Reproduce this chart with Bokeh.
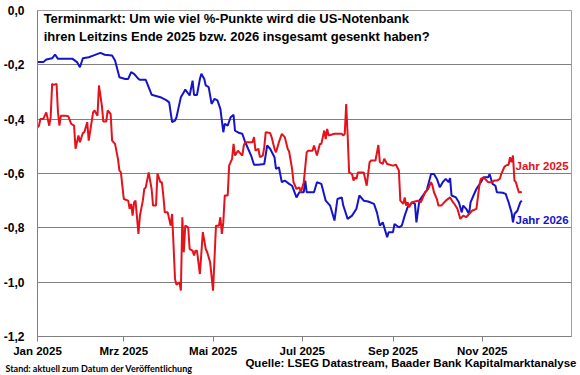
from datetime import datetime, timedelta
from bokeh.plotting import figure
from bokeh.models import Range1d, FixedTicker, Label, CustomJSTickFormatter, ColumnDataSource, Title
from bokeh.embed import file_html
from bokeh.resources import INLINE

# ---------------- data ----------------
title_line1 = "Terminmarkt: Um wie viel %-Punkte  wird die US-Notenbank"
title_line2 = "ihren Leitzins Ende 2025 bzw. 2026 insgesamt gesenkt haben?"
label_2025 = "Jahr 2025"
label_2026 = "Jahr 2026"
source_text = "Quelle: LSEG Datastream, Baader Bank Kapitalmarktanalyse"
stand_text = "Stand: aktuell zum Datum der Veröffentlichung"

y_ticks = [0.0, -0.2, -0.4, -0.6, -0.8, -1.0, -1.2]
x_tick_dates = [datetime(2025, 1, 1), datetime(2025, 3, 1), datetime(2025, 5, 1),
                datetime(2025, 7, 1), datetime(2025, 9, 1), datetime(2025, 11, 1)]
x_tick_labels = ["Jan 2025", "Mrz 2025", "Mai 2025", "Jul 2025", "Sep 2025", "Nov 2025"]

# days since 1 Jan 2025
days_2025 = [0, 1, 2, 4, 6, 7, 8, 9, 10, 11, 13, 14, 15, 16, 19, 21, 23, 25, 26, 28,
             29, 31, 32, 34, 35, 38, 39, 41, 42, 44, 45, 47, 48, 50, 51, 53, 55, 56, 57, 59,
             62, 63, 64, 65, 66, 67, 69, 70, 72, 73, 74, 76, 78, 79, 81, 82, 84, 85, 86, 87,
             89, 91, 92, 93, 94, 95, 97, 98, 99, 100, 101, 103, 104, 106, 107, 108, 109, 111, 113, 115,
             116, 118, 120, 122, 124, 125, 126, 127, 128, 130, 131, 133, 134, 135, 137, 138, 140, 141, 142, 147,
             148, 149, 151, 152, 154, 155, 156, 159, 160, 162, 163, 165, 167, 169, 171, 172, 174, 175, 177, 179,
             180, 182, 184, 185, 188, 189, 191, 193, 194, 196, 197, 198, 199, 203, 208, 209, 210, 211, 212, 213,
             215, 216, 217, 218, 219, 223, 225, 227, 228, 231, 233, 234, 236, 237, 239, 243, 245, 247, 248, 250,
             251, 252, 253, 254, 256, 260, 262, 265, 267, 269, 270, 271, 273, 274, 276, 278, 280, 282, 284, 285,
             287, 289, 291, 293, 295, 297, 300, 301, 302, 303, 305, 308, 311, 312, 314, 316, 317, 319, 320, 322,
             323, 324, 325, 326, 327, 328, 329, 330, 331]
vals_2025 = [-0.430, -0.424, -0.399, -0.399, -0.375, -0.399, -0.424, -0.393, -0.270, -0.274, -0.270, -0.375, -0.424, -0.387, -0.387, -0.389, -0.417, -0.424, -0.509, -0.460,
             -0.485, -0.451, -0.448, -0.411, -0.479, -0.375, -0.368, -0.387, -0.276, -0.350, -0.409, -0.409, -0.368, -0.381, -0.479, -0.491, -0.546, -0.589, -0.596, -0.694,
             -0.700, -0.730, -0.712, -0.755, -0.706, -0.700, -0.822, -0.755, -0.700, -0.657, -0.651, -0.596, -0.657, -0.718, -0.718, -0.600, -0.632, -0.632, -0.681, -0.743,
             -0.743, -0.792, -0.749, -0.866, -0.988, -1.010, -1.000, -1.031, -0.761, -0.890, -0.792, -0.798, -0.878, -0.884, -0.902, -0.884, -0.884, -0.970, -0.816, -0.878,
             -0.890, -0.927, -1.031, -0.792, -0.792, -0.761, -0.822, -0.780, -0.681, -0.681, -0.571, -0.546, -0.491, -0.534, -0.516, -0.522, -0.534, -0.497, -0.485, -0.485,
             -0.466, -0.516, -0.509, -0.540, -0.534, -0.503, -0.448, -0.451, -0.466, -0.509, -0.522, -0.485, -0.454, -0.466, -0.509, -0.519, -0.583, -0.632, -0.657, -0.651,
             -0.669, -0.632, -0.522, -0.516, -0.516, -0.497, -0.534, -0.491, -0.491, -0.442, -0.473, -0.436, -0.460, -0.454, -0.454, -0.460, -0.454, -0.344, -0.460, -0.596,
             -0.602, -0.626, -0.614, -0.620, -0.596, -0.596, -0.645, -0.558, -0.552, -0.552, -0.495, -0.558, -0.565, -0.546, -0.565, -0.571, -0.568, -0.589, -0.700, -0.712,
             -0.688, -0.718, -0.706, -0.724, -0.706, -0.700, -0.706, -0.669, -0.657, -0.632, -0.645, -0.669, -0.694, -0.718, -0.718, -0.706, -0.696, -0.688, -0.706, -0.712,
             -0.730, -0.767, -0.755, -0.761, -0.749, -0.737, -0.730, -0.688, -0.645, -0.620, -0.614, -0.632, -0.632, -0.626, -0.626, -0.620, -0.602, -0.577, -0.571, -0.568,
             -0.540, -0.558, -0.534, -0.626, -0.632, -0.651, -0.669, -0.669, -0.667]

days_2026 = [0, 4, 6, 10, 12, 14, 24, 27, 29, 31, 35, 38, 43, 46, 51, 53, 56, 60, 62, 64,
             66, 69, 70, 74, 78, 84, 88, 90, 92, 94, 95, 98, 100, 101, 104, 106, 107, 109, 111, 112,
             114, 115, 117, 119, 121, 123, 125, 127, 128, 130, 132, 134, 135, 138, 140, 142, 143, 146, 148, 151,
             155, 157, 159, 162, 163, 165, 167, 169, 172, 174, 177, 179, 182, 183, 184, 189, 191, 194, 197, 200,
             203, 205, 208, 209, 212, 215, 218, 220, 223, 226, 230, 232, 234, 236, 239, 240, 243, 244, 247, 249,
             251, 253, 256, 258, 259, 261, 265, 266, 269, 271, 273, 275, 277, 279, 281, 282, 283, 286, 288, 290,
             291, 293, 295, 296, 298, 300, 303, 305, 308, 309, 311, 313, 314, 318, 320, 322, 324, 325, 326, 328,
             329, 330, 331]
vals_2026 = [-0.190, -0.190, -0.180, -0.176, -0.162, -0.178, -0.178, -0.190, -0.209, -0.176, -0.172, -0.166, -0.156, -0.163, -0.166, -0.184, -0.246, -0.252, -0.252, -0.227,
             -0.233, -0.252, -0.255, -0.255, -0.310, -0.319, -0.330, -0.338, -0.411, -0.405, -0.393, -0.319, -0.301, -0.291, -0.313, -0.258, -0.311, -0.311, -0.252, -0.233,
             -0.252, -0.276, -0.282, -0.344, -0.325, -0.331, -0.362, -0.448, -0.417, -0.424, -0.393, -0.384, -0.442, -0.451, -0.454, -0.485, -0.497, -0.534, -0.568, -0.568,
             -0.565, -0.497, -0.509, -0.540, -0.583, -0.577, -0.632, -0.626, -0.638, -0.645, -0.688, -0.669, -0.669, -0.626, -0.669, -0.669, -0.632, -0.638, -0.700, -0.718,
             -0.773, -0.694, -0.688, -0.718, -0.767, -0.755, -0.730, -0.681, -0.700, -0.703, -0.712, -0.743, -0.792, -0.780, -0.835, -0.816, -0.816, -0.786, -0.798, -0.792,
             -0.755, -0.724, -0.706, -0.712, -0.780, -0.700, -0.669, -0.663, -0.602, -0.602, -0.620, -0.651, -0.632, -0.620, -0.632, -0.617, -0.681, -0.688, -0.706, -0.743,
             -0.718, -0.730, -0.749, -0.706, -0.681, -0.657, -0.632, -0.614, -0.614, -0.602, -0.638, -0.645, -0.669, -0.671, -0.675, -0.706, -0.743, -0.780, -0.749, -0.737,
             -0.721, -0.706, -0.700]

assert len(days_2025) == len(vals_2025)
assert len(days_2026) == len(vals_2026)

# ---------------- helpers ----------------
START = datetime(2025, 1, 1)
EPOCH = datetime(1970, 1, 1)


def ms(d):
    return (d - EPOCH).total_seconds() * 1000.0


def day_ms(n):
    return ms(START + timedelta(days=n))


RED = "#E3121B"
BLUE = "#1414C8"
GRID = "#7F7F7F"
FONT = "Liberation Sans"

p = figure(width=580, height=375, x_axis_type="datetime",
           output_backend="svg", toolbar_location=None,
           x_range=Range1d(ms(datetime(2025, 1, 1)), ms(datetime(2026, 1, 1))),
           y_range=Range1d(-1.2, 0.0),
           min_border_left=34, min_border_right=9, min_border_top=10, min_border_bottom=39)
p.background_fill_color = "white"
p.border_fill_color = "white"
p.outline_line_color = "#A0A0A0"
p.outline_line_width = 1

# y axis
p.yaxis.ticker = FixedTicker(ticks=y_ticks)
p.yaxis.formatter = CustomJSTickFormatter(code="return tick.toFixed(1).replace('.', ',');")
p.yaxis.axis_line_color = GRID
p.yaxis.major_tick_line_color = None
p.yaxis.minor_tick_line_color = None
p.yaxis.major_label_standoff = 7
p.yaxis.major_label_text_font = FONT
p.yaxis.major_label_text_font_style = "bold"
p.yaxis.major_label_text_font_size = "12px"
p.yaxis.major_label_text_color = "black"

# x axis
x_tick_ms = [ms(d) for d in x_tick_dates]
p.xaxis.ticker = FixedTicker(ticks=x_tick_ms)
p.xaxis.formatter = CustomJSTickFormatter(
    args=dict(tick_vals=x_tick_ms, tick_names=x_tick_labels),
    code="""
    for (let i = 0; i < tick_vals.length; i++) {
        if (Math.abs(tick_vals[i] - tick) < 1000) { return tick_names[i]; }
    }
    return '';
    """)
p.xaxis.axis_line_color = GRID
p.xaxis.major_tick_line_color = GRID
p.xaxis.major_tick_out = 5
p.xaxis.major_tick_in = 0
p.xaxis.minor_tick_line_color = None
p.xaxis.major_label_standoff = 3
p.xaxis.major_label_text_font = FONT
p.xaxis.major_label_text_font_style = "bold"
p.xaxis.major_label_text_font_size = "11.5px"
p.xaxis.major_label_text_color = "black"

p.xgrid.visible = False
p.ygrid.grid_line_color = GRID
p.ygrid.grid_line_width = 1

# lines
src25 = ColumnDataSource(dict(x=[START + timedelta(days=d) for d in days_2025], y=vals_2025))
src26 = ColumnDataSource(dict(x=[START + timedelta(days=d) for d in days_2026], y=vals_2026))
p.line("x", "y", source=src26, line_color=BLUE, line_width=2)
p.line("x", "y", source=src25, line_color=RED, line_width=2)

# titles inside plot
p.add_layout(Label(x=day_ms(4.2), y=-0.003, text=title_line1, text_font=FONT,
                   text_font_style="bold", text_font_size="13px", text_baseline="top",
                   text_color="black"))
p.add_layout(Label(x=day_ms(4.2), y=-0.068, text=title_line2, text_font=FONT,
                   text_font_style="bold", text_font_size="13px", text_baseline="top",
                   text_color="black"))

# series labels
p.add_layout(Label(x=day_ms(363), y=-0.571, text=label_2025, text_font=FONT,
                   text_font_style="bold", text_font_size="11.5px", text_align="right",
                   text_baseline="middle", text_color=RED))
p.add_layout(Label(x=day_ms(363), y=-0.773, text=label_2026, text_font=FONT,
                   text_font_style="bold", text_font_size="11.5px", text_align="right",
                   text_baseline="middle", text_color=BLUE))

# footer texts (stacked below the x axis)
quelle = Title(text=source_text, align="right", text_font=FONT, text_font_style="bold",
               text_font_size="11.5px", text_color="black", standoff=0, offset=-5)
stand = Title(text=stand_text, align="left", text_font="Lato", text_font_style="bold",
              text_font_size="9px", text_color="black", standoff=0, offset=-32)
try:
    quelle.standoff = -9
    stand.standoff = -7
except Exception:
    pass
p.add_layout(quelle, "below")
p.add_layout(stand, "below")

open("out.html", "w").write(file_html(p, INLINE))
